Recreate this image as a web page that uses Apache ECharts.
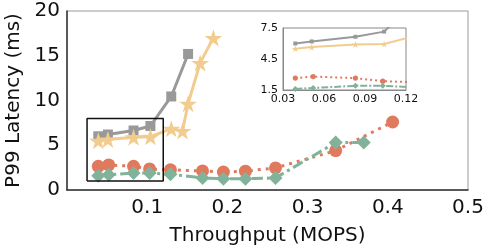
<!DOCTYPE html>
<html><head><meta charset="utf-8">
<script src="https://cdn.jsdelivr.net/npm/echarts@6/dist/echarts.min.js"></script>
<style>html,body{margin:0;padding:0;background:#fff}#c{width:488px;height:250px}</style>
</head><body><div id="c"></div>
<script>
const grayX = [0.039, 0.051, 0.083, 0.104, 0.130, 0.151];
const grayY = [6.0, 6.2, 6.65, 7.15, 10.45, 15.2];
const yellowX = [0.039, 0.051, 0.083, 0.104, 0.130, 0.144, 0.151, 0.166, 0.1825];
const yellowY = [5.5, 5.65, 5.9, 5.95, 6.85, 6.6, 9.65, 14.2, 17.0];
const redX = [0.039, 0.052, 0.083, 0.103, 0.129, 0.169, 0.195, 0.2225, 0.26, 0.335, 0.406];
const redY = [2.65, 2.8, 2.65, 2.35, 2.25, 2.13, 2.0, 2.1, 2.47, 4.4, 7.6];
const greenX = [0.039, 0.052, 0.083, 0.103, 0.129, 0.169, 0.195, 0.2225, 0.26, 0.335, 0.37];
const greenY = [1.6, 1.7, 1.9, 1.9, 1.75, 1.35, 1.25, 1.25, 1.35, 5.3, 5.3];
const boxX = [0.025, 0.12];
const boxY = [1, 8];
const mainXTicks = [0, 0.5, 0.1];
const mainYTicks = [0, 20, 5];
const insetXTicks = [0.03, 0.12, 0.03];
const insetYTicks = [1.5, 7.5, 3];

const C = {gray:'#999999', yellow:'#f2cc8f', red:'#e07a5f', green:'#81b29a'};
const star = 'path://M50,0 L61,35 L98,35 L68,57 L79,91 L50,70 L21,91 L32,57 L2,35 L39,35 Z';
const font = 'DejaVu Sans';
const zip = (a,b) => a.map((v,i)=>[v,b[i]]);
const boxData = [[boxX[0],boxY[0]],[boxX[1],boxY[0]],[boxX[1],boxY[1]],[boxX[0],boxY[1]],[boxX[0],boxY[0]]];

function mk(idx, inset){
  const lw = inset ? 2 : 3;
  const k = inset ? 0.4 : 1;
  return [
    {type:'line', xAxisIndex:idx, yAxisIndex:idx, data:zip(grayX,grayY), symbol:'rect', symbolSize:10*k,
     lineStyle:{color:C.gray,width:lw}, itemStyle:{color:C.gray}, z:3},
    {type:'line', xAxisIndex:idx, yAxisIndex:idx, data:zip(yellowX,yellowY), symbol:star, symbolKeepAspect:true, symbolSize:18*k,
     lineStyle:{color:C.yellow,width:lw}, itemStyle:{color:C.yellow}, z:4},
    {type:'line', xAxisIndex:idx, yAxisIndex:idx, data:zip(redX,redY), symbol:'circle', symbolSize:13*k,
     lineStyle:{color:C.red,width:lw,type:inset?[2,3]:[3,5]}, itemStyle:{color:C.red}, z:3},
    {type:'line', xAxisIndex:idx, yAxisIndex:idx, data:zip(greenX,greenY), symbol:'diamond', symbolSize:inset?[6,6]:[14,14],
     lineStyle:{color:C.green,width:lw,type:inset?[7,2,2,2]:[11,4,3,4]}, itemStyle:{color:C.green}, z:3}
  ].map(s=>Object.assign(s,{animation:false, clip:true, silent:true}));
}

const chart = echarts.init(document.getElementById('c'), null, {renderer:'canvas'});
chart.setOption({
  animation:false,
  grid:[
    {left:67, top:11, width:401, height:179, show:true, borderColor:'#999', borderWidth:1, containLabel:false, outerBoundsMode:'none'},
    {left:283, top:28, width:123, height:62, show:true, borderColor:'#888', borderWidth:1, backgroundColor:'#fff', z:10, containLabel:false, outerBoundsMode:'none'}
  ],
  xAxis:[
    {gridIndex:0, type:'value', min:mainXTicks[0], max:mainXTicks[1], interval:mainXTicks[2],
     splitLine:{show:false}, axisTick:{show:false}, axisLine:{lineStyle:{color:'#333',width:1.5}},
     axisLabel:{showMinLabel:false, color:'#111', fontFamily:font, fontSize:20, margin:8, formatter:v=>v.toFixed(1)},
     name:'Throughput (MOPS)', nameLocation:'middle', nameGap:36, nameTextStyle:{color:'#111',fontFamily:font,fontSize:20,verticalAlign:'top'}},
    {gridIndex:1, type:'value', min:insetXTicks[0], max:insetXTicks[1], interval:insetXTicks[2],
     splitLine:{show:false}, axisTick:{show:false}, axisLine:{lineStyle:{color:'#888',width:1}},
     axisLabel:{color:'#111', fontFamily:font, fontSize:11, margin:4, formatter:v=>v.toFixed(2)}, z:10}
  ],
  yAxis:[
    {gridIndex:0, type:'value', min:mainYTicks[0], max:mainYTicks[1], interval:mainYTicks[2],
     splitLine:{show:false}, axisTick:{show:false}, axisLine:{show:true, lineStyle:{color:'#333',width:1.5}},
     axisLabel:{color:'#111', fontFamily:font, fontSize:20, margin:7},
     name:'P99 Latency (ms)', nameLocation:'middle', nameGap:42, nameTextStyle:{color:'#111',fontFamily:font,fontSize:20}},
    {gridIndex:1, type:'value', min:insetYTicks[0], max:insetYTicks[1], interval:insetYTicks[2],
     splitLine:{show:false}, axisTick:{show:false}, axisLine:{show:true, lineStyle:{color:'#888',width:1}},
     axisLabel:{color:'#111', fontFamily:font, fontSize:11, margin:5, formatter:v=>v.toFixed(1)}, z:10}
  ],
  series:[
    ...mk(0,false),
    {type:'line', xAxisIndex:0, yAxisIndex:0, data:boxData, symbol:'none', lineStyle:{color:'#111',width:1.5}, z:5, animation:false, silent:true},
    ...mk(1,true).map(s=>Object.assign(s,{z:12}))
  ]
});
</script></body></html>
